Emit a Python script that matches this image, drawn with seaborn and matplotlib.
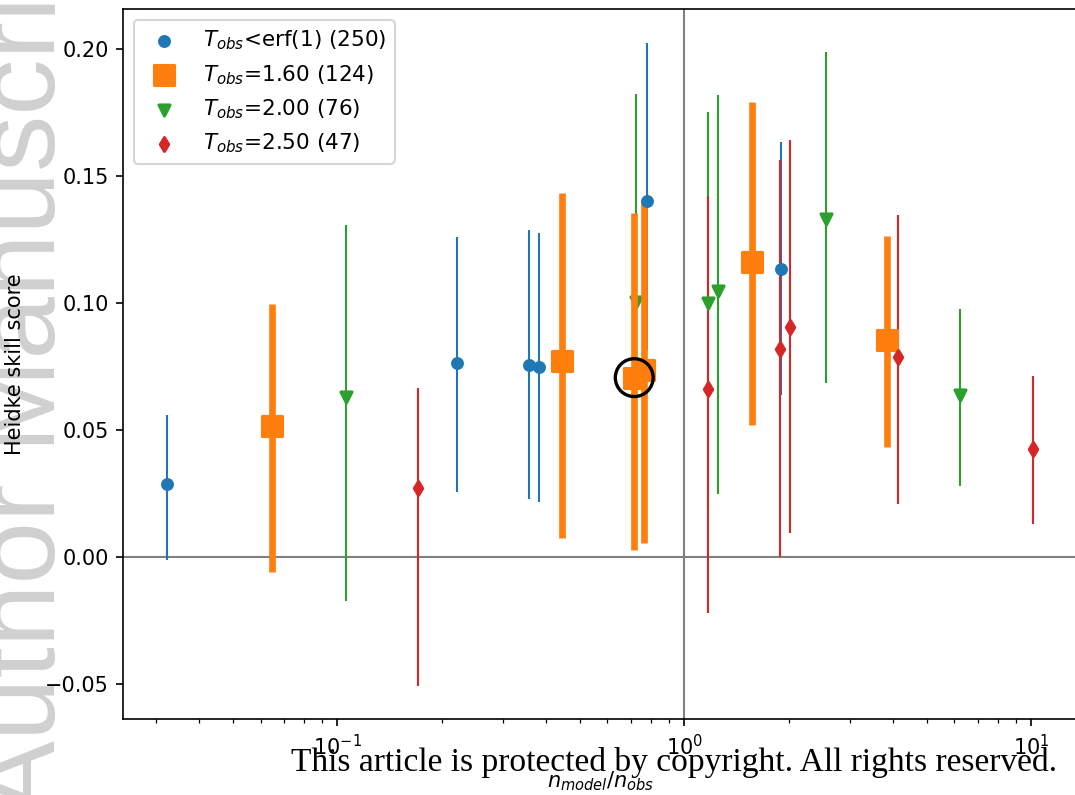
import numpy as np
import pandas as pd
import matplotlib
matplotlib.use("Agg")
import matplotlib.pyplot as plt
import seaborn as sns

# Frequency-bias ratio n_model/n_obs, Heidke skill score and its lower/upper bounds
lt_ratio = [0.0322, 0.2206, 0.3563, 0.3807, 0.7797, 1.897]
lt_hss = [0.0289, 0.0766, 0.0757, 0.0748, 0.1404, 0.1134]
lt_lo = [-0.0010, 0.0255, 0.0228, 0.0218, 0.0816, 0.0640]
lt_hi = [0.0560, 0.1259, 0.1289, 0.1278, 0.2025, 0.1634]

t160_ratio = [0.0649, 0.4436, 0.7166, 0.7660, 1.568, 3.825]
t160_hss = [0.0517, 0.0773, 0.0707, 0.0737, 0.1161, 0.0854]
t160_lo = [-0.0057, 0.0075, 0.0029, 0.0057, 0.0519, 0.0433]
t160_hi = [0.0998, 0.1433, 0.1357, 0.1399, 0.1792, 0.1264]

t200_ratio = [0.1056, 0.7233, 1.166, 1.247, 2.552, 6.234]
t200_hss = [0.0630, 0.1006, 0.0999, 0.1048, 0.1331, 0.0638]
t200_lo = [-0.0171, 0.0180, 0.0198, 0.0250, 0.0685, 0.0280]
t200_hi = [0.1306, 0.1824, 0.1754, 0.1820, 0.1990, 0.0976]

t250_ratio = [0.171, 1.166, 1.884, 2.014, 4.131, 10.08]
t250_hss = [0.0273, 0.0663, 0.0818, 0.0906, 0.0790, 0.0425]
t250_lo = [-0.0507, -0.0219, 0.0000, 0.0095, 0.0209, 0.0130]
t250_hi = [0.0665, 0.1421, 0.1562, 0.1641, 0.1346, 0.0713]

series_labels = [
    "$T_{obs}$<erf(1) (250)",
    "$T_{obs}$=1.60 (124)",
    "$T_{obs}$=2.00 (76)",
    "$T_{obs}$=2.50 (47)",
]

# index of the highlighted configuration in the T_obs=1.60 series
best_idx = 2

W, H, DPI = 1075, 795, 150
fig = plt.figure(figsize=(W / DPI, H / DPI), dpi=DPI)
ax = fig.add_axes([123.3 / W, 1 - 719.3 / H, (1077 - 123.3) / W, (719.3 - 9.3) / H])

pal = sns.color_palette("tab10")
series = [
    dict(x=lt_ratio, y=lt_hss, lo=lt_lo, hi=lt_hi, color=pal[0], marker="o", s=22, elw=1.0, bz=1.5, mz=2.2),
    dict(x=t160_ratio, y=t160_hss, lo=t160_lo, hi=t160_hi, color=pal[1], marker="s", s=100, elw=3.2, bz=1.9, mz=2.0),
    dict(x=t200_ratio, y=t200_hss, lo=t200_lo, hi=t200_hi, color=pal[2], marker="v", s=28, elw=1.0, bz=1.6, mz=1.8),
    dict(x=t250_ratio, y=t250_hss, lo=t250_lo, hi=t250_hi, color=pal[3], marker="d", s=22, elw=1.0, bz=1.7, mz=2.1),
]

ax.axhline(0, color="gray", lw=1.0, zorder=1)
ax.axvline(1, color="gray", lw=1.0, zorder=1)

handles = []
for spec, lab in zip(series, series_labels):
    y = np.asarray(spec["y"])
    yerr = [y - np.asarray(spec["lo"]), np.asarray(spec["hi"]) - y]
    ax.errorbar(spec["x"], y, yerr=yerr, fmt="none", ecolor=spec["color"],
                elinewidth=spec["elw"], zorder=spec["bz"])
    df = pd.DataFrame({"ratio": spec["x"], "hss": spec["y"]})
    sns.scatterplot(data=df, x="ratio", y="hss", ax=ax, color=spec["color"],
                    marker=spec["marker"], s=spec["s"], edgecolor="face",
                    linewidth=1.5, zorder=spec["mz"], legend=False)
    coll = ax.collections[-1]
    coll.set_label(lab)
    handles.append(coll)

# ring around the selected configuration
best = pd.DataFrame({"ratio": [t160_ratio[best_idx]], "hss": [t160_hss[best_idx]]})
sns.scatterplot(data=best, x="ratio", y="hss", ax=ax, s=330, facecolor="none",
                edgecolor="black", linewidth=1.6, zorder=3, legend=False)

ax.set_xscale("log")
ax.set_xlim(0.02414, 13.53)
ax.set_ylim(-0.0638, 0.2157)
ax.set_yticks([-0.05, 0.0, 0.05, 0.10, 0.15, 0.20])
ax.set_xlabel("$n_{model}/n_{obs}$", labelpad=5)
ax.set_ylabel("Heidke skill score")
ax.yaxis.set_label_coords(-0.103, 0.5)

ax.legend(handles=handles, labels=series_labels, loc="upper left", fontsize=10.3)

# page furniture of the accepted manuscript
fig.text(55 / W, 1 - 815 / H, "Author Manuscript", rotation=90, rotation_mode="anchor",
         ha="left", va="baseline", fontsize=54, color="#d0d0d0",
         family="Liberation Sans", zorder=-1)
fig.text(291 / W, 1 - 771 / H, "This article is protected by copyright. All rights reserved.",
         ha="left", va="baseline", fontsize=16.1, color="black", family="Liberation Serif")

fig.savefig("out.png", dpi=DPI)
